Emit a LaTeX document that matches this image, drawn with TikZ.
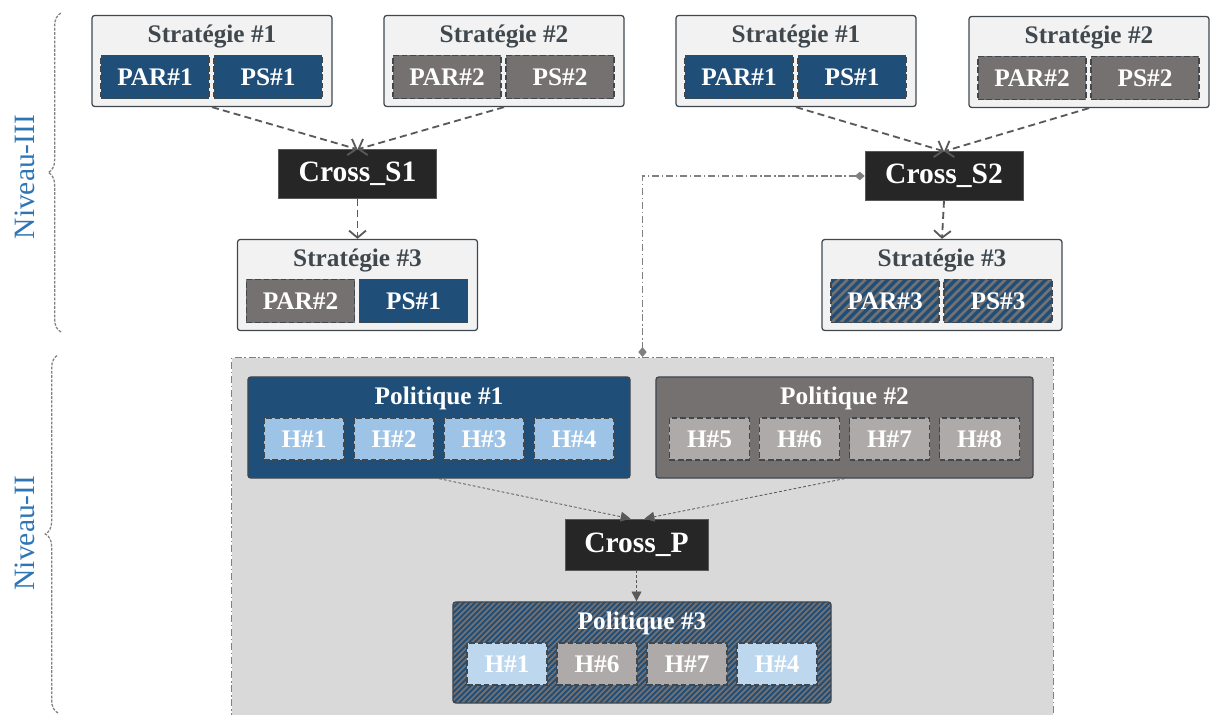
\documentclass[tikz,border=0pt]{standalone}
\usepackage{fontspec}
\setmainfont{Liberation Serif}
\usetikzlibrary{arrows.meta,calc,positioning,decorations.pathreplacing}
\definecolor{StratBlue}{RGB}{31,78,121}
\definecolor{StratGray}{RGB}{118,113,113}
\definecolor{LightGray}{RGB}{174,170,170}
\definecolor{SkyBlue}{RGB}{157,195,230}
\definecolor{PaleBlue}{RGB}{189,215,238}
\definecolor{FrameGray}{RGB}{64,72,78}
\definecolor{PanelGray}{RGB}{242,242,242}
\definecolor{ZoneGray}{RGB}{217,217,217}
\definecolor{LineGray}{RGB}{89,89,89}
\definecolor{LevelBlue}{RGB}{46,117,182}
\definecolor{CrossBlack}{RGB}{38,38,38}

\begin{document}
\begin{tikzpicture}[x=0.025cm,y=-0.025cm,>=Latex,
    panel/.style={draw=FrameGray,line width=0.9pt,fill=PanelGray,rounded corners=2pt,
      minimum width=6cm,minimum height=2.275cm},
    ttl/.style={font=\fontsize{18}{21}\selectfont\bfseries,text=FrameGray},
    gene/.style={draw=FrameGray,line width=1.1pt,dash pattern=on 4pt off 2pt,text=white,
      font=\fontsize{18}{21}\selectfont\bfseries,minimum width=2.7cm,minimum height=1.075cm},
    hgene/.style={gene,minimum width=2cm,minimum height=1.05cm},
    poli/.style={draw=FrameGray,line width=0.9pt,rounded corners=2pt,minimum height=2.525cm},
    pttl/.style={font=\fontsize{18}{21}\selectfont\bfseries,text=white},
    cross/.style={fill=CrossBlack,draw=LineGray,text=white,
      font=\fontsize{21}{24}\selectfont\bfseries,minimum width=3.95cm,minimum height=1.22cm},
    hatch/.style 2 args={fill=StratGray,path picture={
      \foreach \i in {0,...,100}
        \draw[StratBlue,solid,line width=#2]
          ([xshift=\i*#1-2.8cm]path picture bounding box.south west) -- ++(2.8cm,2.8cm);}},
    link/.style={draw=LineGray,line width=1.3pt,dash pattern=on 5pt off 3pt,
      -{Straight Barb[length=5pt,width=12pt]}},
    flow/.style={draw=LineGray,line width=0.6pt,dash pattern=on 2pt off 1.5pt,
      -{Triangle[length=7pt,width=7pt]}},
    dashdot/.style={draw=gray,line width=0.8pt,dash pattern=on 5pt off 2pt on 1pt off 2pt},
    niveau/.style={rotate=90,text=LevelBlue,font=\fontsize{21}{24}\selectfont},
    bracket/.style={draw=gray,line width=0.9pt,dash pattern=on 2pt off 1pt,decorate,
      decoration={brace,amplitude=9pt}}
  ]
  \useasboundingbox (0,0) rectangle (1210,715);

  % Niveau-II zone
  \node[dashdot,fill=ZoneGray,minimum width=20.525cm,minimum height=9.1cm,anchor=north]
    (zone) at (642.5,357) {};

  % Niveau-III, left
  \node[panel] (sg1) at (212,61) {};
  \node[ttl] (sg1t) at ($(sg1)+(0,-24.5)$) {Stratégie \#1};
  \node[gene,fill=StratBlue] (sg1par) at ($(sg1)+(-57,16)$) {PAR\#1};
  \node[gene,fill=StratBlue] (sg1ps) at ($(sg1)+(56,16)$) {PS\#1};

  \node[panel] (sg2) at (504,61) {};
  \node[ttl] (sg2t) at ($(sg2)+(0,-24.5)$) {Stratégie \#2};
  \node[gene,fill=StratGray] (sg2par) at ($(sg2)+(-57,16)$) {PAR\#2};
  \node[gene,fill=StratGray] (sg2ps) at ($(sg2)+(56,16)$) {PS\#2};

  \node[cross] (cs1) at (357.5,174) {Cross\_S1};

  \node[panel] (sg3) at (357.5,285) {};
  \node[ttl] (sg3t) at ($(sg3)+(0,-24.5)$) {Stratégie \#3};
  \node[gene,fill=StratGray] (sg3par) at ($(sg3)+(-57,16)$) {PAR\#2};
  \node[gene,fill=StratBlue] (sg3ps) at ($(sg3)+(56,16)$) {PS\#1};

  % Niveau-III, right
  \node[panel] (sd1) at (796,61) {};
  \node[ttl] (sd1t) at ($(sd1)+(0,-24.5)$) {Stratégie \#1};
  \node[gene,fill=StratBlue] (sd1par) at ($(sd1)+(-57,16)$) {PAR\#1};
  \node[gene,fill=StratBlue] (sd1ps) at ($(sd1)+(56,16)$) {PS\#1};

  \node[panel] (sd2) at (1089,62) {};
  \node[ttl] (sd2t) at ($(sd2)+(0,-24.5)$) {Stratégie \#2};
  \node[gene,fill=StratGray] (sd2par) at ($(sd2)+(-57,16)$) {PAR\#2};
  \node[gene,fill=StratGray] (sd2ps) at ($(sd2)+(56,16)$) {PS\#2};

  \node[cross] (cs2) at (944,176) {Cross\_S2};

  \node[panel] (sd3) at (942,285) {};
  \node[ttl] (sd3t) at ($(sd3)+(0,-24.5)$) {Stratégie \#3};
  \node[gene,hatch={6.4pt}{2.3pt}] (sd3par) at ($(sd3)+(-57,16)$) {PAR\#3};
  \node[gene,hatch={6.4pt}{2.3pt}] (sd3ps) at ($(sd3)+(56,16)$) {PS\#3};

  \draw[link] (sg1.south) -- (cs1.north);
  \draw[link] (sg2.south) -- (cs1.north);
  \draw[link] (cs1.south) -- (sg3.north);
  \draw[link] (sd1.south) -- (cs2.north);
  \draw[link] (sd2.south) -- (cs2.north);
  \draw[link] (cs2.south) -- (sd3.north);
  \draw[dashdot,{Diamond[length=7pt,width=6pt,fill=gray]}-{Diamond[length=7pt,width=6pt,fill=gray]}]
    (cs2.west) -| (zone.north);

  % Niveau-II
  \node[poli,fill=StratBlue,minimum width=9.55cm] (pol1) at (439,427.5) {};
  \node[pttl] (pol1t) at ($(pol1)+(0,-29.5)$) {Politique \#1};
  \foreach \k/\dx in {1/-135,2/-45,3/45,4/135}
    \node[hgene,fill=SkyBlue] (p1h\k) at ($(pol1)+(\dx,11.5)$) {H\#\k};

  \node[poli,fill=StratGray,minimum width=9.425cm] (pol2) at (844.5,427.5) {};
  \node[pttl] (pol2t) at ($(pol2)+(0,-29.5)$) {Politique \#2};
  \foreach \k/\dx in {5/-135,6/-45,7/45,8/135}
    \node[hgene,fill=LightGray] (p2h\k) at ($(pol2)+(\dx,11.5)$) {H\#\k};

  \node[cross,minimum width=3.575cm,minimum height=1.275cm] (cp) at (636.5,544.5) {Cross\_P};

  \node[poli,hatch={4pt}{1.4pt},minimum width=9.45cm] (pol3) at (642,652.5) {};
  \node[pttl] (pol3t) at ($(pol3)+(0,-29.5)$) {Politique \#3};
  \foreach \k/\dx/\c in {1/-135/PaleBlue,6/-45/LightGray,7/45/LightGray,4/135/PaleBlue}
    \node[hgene,fill=\c] (p3h\k) at ($(pol3)+(\dx,11.5)$) {H\#\k};

  \draw[flow] (pol1.south) -- ([xshift=-0.15cm]cp.north);
  \draw[flow] (pol2.south) -- ([xshift=0.2cm]cp.north);
  \draw[flow] (cp.south) -- (cp.south |- pol3.north);

  % levels
  \coordinate (b3lo) at (61,332);
  \coordinate (b3hi) at (61,13);
  \draw[bracket] (b3lo) -- (b3hi);
  \node[niveau] (n3) at (25,177) {Niveau-III};
  \coordinate (b2lo) at (58,713);
  \coordinate (b2hi) at (58,355);
  \draw[bracket] (b2lo) -- (b2hi);
  \node[niveau] (n2) at (25,533) {Niveau-II};
\end{tikzpicture}
\end{document}
